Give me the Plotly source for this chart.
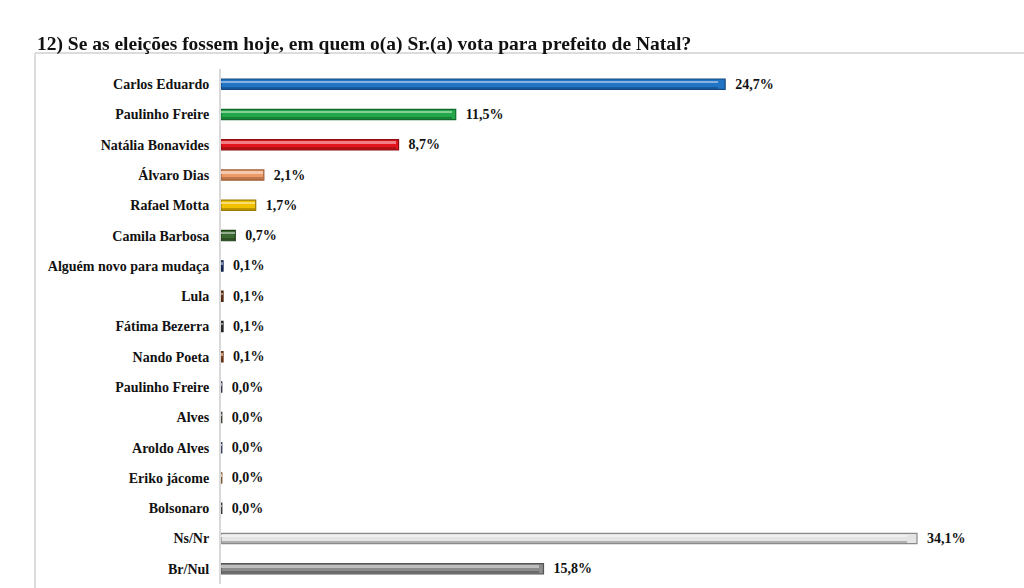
import plotly.graph_objects as go

title = "12) Se as eleições fossem hoje, em quem o(a) Sr.(a) vota para prefeito de Natal?"
labels = ["Carlos Eduardo", "Paulinho Freire", "Natália Bonavides", "Álvaro Dias", "Rafael Motta",
          "Camila Barbosa", "Alguém novo para mudaça", "Lula", "Fátima Bezerra", "Nando Poeta",
          "Paulinho Freire", "Alves", "Aroldo Alves", "Eriko jácome", "Bolsonaro", "Ns/Nr", "Br/Nul"]
values = [24.7, 11.5, 8.7, 2.1, 1.7, 0.7, 0.1, 0.1, 0.1, 0.1, 0.04, 0.04, 0.04, 0.04, 0.04, 34.1, 15.8]
colors = ["#2274c4", "#22a84a", "#e3141c", "#ee9a68", "#f2c200", "#3d6a33", "#1c3775", "#7a3c18",
          "#3c3c3c", "#9c4e22", "#5a5c78", "#6b6b5e", "#5d6c9c", "#be8c5a", "#5c5c5c", "#e4e4e4", "#8c8c8c"]
edge = ["#134a80", "#136a2c", "#8e0c10", "#a0603a", "#9a7a00", "#23401d", "#0f1f45", "#4a240e",
        "#222222", "#5e2e14", "#36384a", "#42423a", "#3a4462", "#7a5a38", "#383838", "#8a8a8a", "#555555"]


def tint(hexc, f=0.45):
    h = hexc.lstrip("#")
    r, g, b = (int(h[i:i + 2], 16) for i in (0, 2, 4))
    r, g, b = (int(c + (255 - c) * f) for c in (r, g, b))
    return f"#{r:02x}{g:02x}{b:02x}"


pos = list(range(len(labels)))
texts = ["  " + f"{v:.1f}".replace(".", ",") + "%" for v in values]

W, H = 1024, 588
ml, mr, mt, mb = 221, 24, 69, 4
pw = W - ml - mr
ph = H - mt - mb
xmax = pw / ((917 - 221) / 34.1)

serif = "Liberation Serif, Times New Roman, serif"

fig = go.Figure()
fig.add_trace(go.Bar(
    y=pos, x=values, orientation="h", width=0.34,
    marker=dict(color=colors, line=dict(color=edge, width=1.2)),
    text=texts, textposition="outside", cliponaxis=False, constraintext="none",
    textfont=dict(family=serif, size=14, color="#111111", weight="bold"),
    hoverinfo="skip", showlegend=False,
))
fig.add_trace(go.Bar(
    y=pos, x=[v * 0.985 for v in values], orientation="h", width=0.08, offset=-0.12,
    marker=dict(color=[tint(c) for c in colors], line=dict(width=0)),
    hoverinfo="skip", showlegend=False,
))
fig.add_trace(go.Bar(
    y=pos, x=[v * 0.985 for v in values], orientation="h", width=0.07, offset=0.08,
    marker=dict(color=edge, line=dict(width=0)), opacity=0.6,
    hoverinfo="skip", showlegend=False,
))

bx = (35 - ml) / pw
by = 1 + (mt - 53) / ph
fig.add_shape(type="line", xref="paper", yref="paper", x0=bx, x1=1 + (mr + 5) / pw, y0=by, y1=by,
              line=dict(color="#dcdcdc", width=2))
fig.add_shape(type="line", xref="paper", yref="paper", x0=bx, x1=bx, y0=by, y1=-(mb + 5) / ph,
              line=dict(color="#dcdcdc", width=2))

fig.add_annotation(text=title, xref="paper", yref="paper", x=bx, y=1 + (mt - 44) / ph,
                   xanchor="left", yanchor="middle", showarrow=False,
                   font=dict(family=serif, size=19.5, color="#111111", weight="bold"))

fig.update_layout(
    width=W, height=H, margin=dict(l=ml, r=mr, t=mt, b=mb),
    paper_bgcolor="white", plot_bgcolor="white",
    barmode="overlay", bargap=0,
    xaxis=dict(range=[0, xmax], visible=False, fixedrange=True),
    yaxis=dict(tickvals=pos, ticktext=labels, range=[len(labels) - 0.5, -0.5],
               showline=True, linecolor="#d9d9d9", linewidth=2, ticks="", showgrid=False,
               zeroline=False, ticklabelstandoff=7, fixedrange=True,
               tickfont=dict(family=serif, size=14, color="#111111", weight="bold")),
)

fig.write_html("out.html", config={"displayModeBar": False, "staticPlot": True},
               post_script="document.body.style.margin='0';document.body.style.overflow='hidden';")
